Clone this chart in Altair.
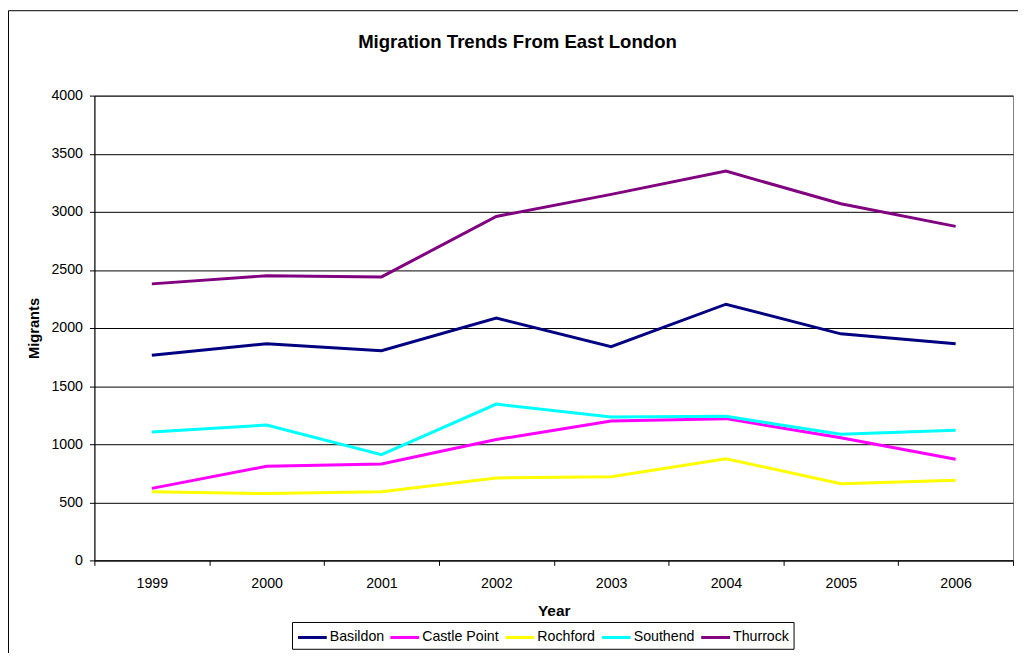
import altair as alt
import pandas as pd

years = [1999, 2000, 2001, 2002, 2003, 2004, 2005, 2006]
basildon = [1765, 1865, 1805, 2085, 1840, 2205, 1950, 1865]
castle_point = [620, 810, 830, 1040, 1200, 1220, 1055, 870]
rochford = [590, 575, 590, 710, 720, 875, 660, 690]
southend = [1105, 1165, 910, 1345, 1235, 1240, 1085, 1120]
thurrock = [2380, 2450, 2440, 2960, 3150, 3350, 3070, 2875]

series_names = ["Basildon", "Castle Point", "Rochford", "Southend", "Thurrock"]
series_colors = ["#000080", "#FF00FF", "#FFFF00", "#00FFFF", "#800080"]
series_values = [basildon, castle_point, rochford, southend, thurrock]
title_text = "Migration Trends From East London"

rows = []
for name, vals in zip(series_names, series_values):
    for y, v in zip(years, vals):
        rows.append({"Year": y, "Migrants": v, "Area": name})
df = pd.DataFrame(rows)

FONT = "Liberation Sans"
W, H = 925, 468

x_ticks = [1998.5 + i for i in range(9)]

lines = alt.Chart(df).mark_line(strokeWidth=3, clip=False).encode(
    x=alt.X(
        "Year:Q",
        scale=alt.Scale(domain=[1998.5, 2006.5], nice=False, zero=False),
        axis=alt.Axis(
            title="Year",
            values=x_ticks,
            labelExpr="datum.value < 2006 ? toString(datum.value + 0.5) : ''",
            labelOffset=W / 16,
            grid=False,
            tickSize=5,
            tickColor="black",
            domainColor="black",
            labelPadding=11.5,
            labelFont=FONT,
            labelFontSize=14.3,
            labelColor="black",
            labelFlush=False,
            labelOverlap=False,
            labelBound=False,
            titleFont=FONT,
            titleFontSize=15.5,
            titleFontWeight="bold",
            titleColor="black",
            titlePadding=12.5,
        ),
    ),
    y=alt.Y(
        "Migrants:Q",
        scale=alt.Scale(domain=[0, 4000], nice=False),
        axis=alt.Axis(
            title="Migrants",
            values=[0, 500, 1000, 1500, 2000, 2500, 3000, 3500, 4000],
            format="d",
            grid=True,
            gridColor="black",
            gridWidth=1,
            tickSize=5,
            tickColor="black",
            domainColor="black",
            labelPadding=7,
            labelFont=FONT,
            labelFontSize=14.3,
            labelColor="black",
            titleFont=FONT,
            titleFontSize=14.8,
            titleFontWeight="bold",
            titleColor="black",
            titlePadding=9,
        ),
    ),
    color=alt.Color(
        "Area:N",
        scale=alt.Scale(domain=series_names, range=series_colors),
        legend=alt.Legend(
            title=None,
            orient="none",
            legendX=199,
            legendY=530,
            direction="horizontal",
            symbolType="M-1.45,0H1.45",
            symbolSize=400,
            symbolOffset=5,
            symbolStrokeWidth=3,
            labelFont=FONT,
            labelFontSize=14.3,
            labelColor="black",
            labelOffset=6,
            columnPadding=0,
            padding=4,
            strokeColor="black",
            fillColor="white",
        ),
    ),
)

border = alt.Chart(pd.DataFrame({"a": [0]})).mark_rect(
    filled=False, stroke="black", strokeWidth=1, clip=False
).encode(
    x=alt.value(-86.5), x2=alt.value(1200), y=alt.value(-85.5), y2=alt.value(800)
)

title = alt.Chart(pd.DataFrame({"t": [title_text]})).mark_text(
    font=FONT, fontSize=18.7, fontWeight="bold", color="black",
    align="center", baseline="alphabetic", clip=False
).encode(
    text="t:N", x=alt.value(426), y=alt.value(-48)
)

chart = alt.layer(border, lines, title).properties(
    width=W,
    height=H,
    autosize=alt.AutoSizeParams(type="none"),
    padding={"left": 87, "top": 86, "right": 5, "bottom": 91},
    background="white",
).configure_view(
    stroke="#808080", strokeWidth=1
)

chart.save("out.html", embed_options={"renderer": "svg", "actions": False})
